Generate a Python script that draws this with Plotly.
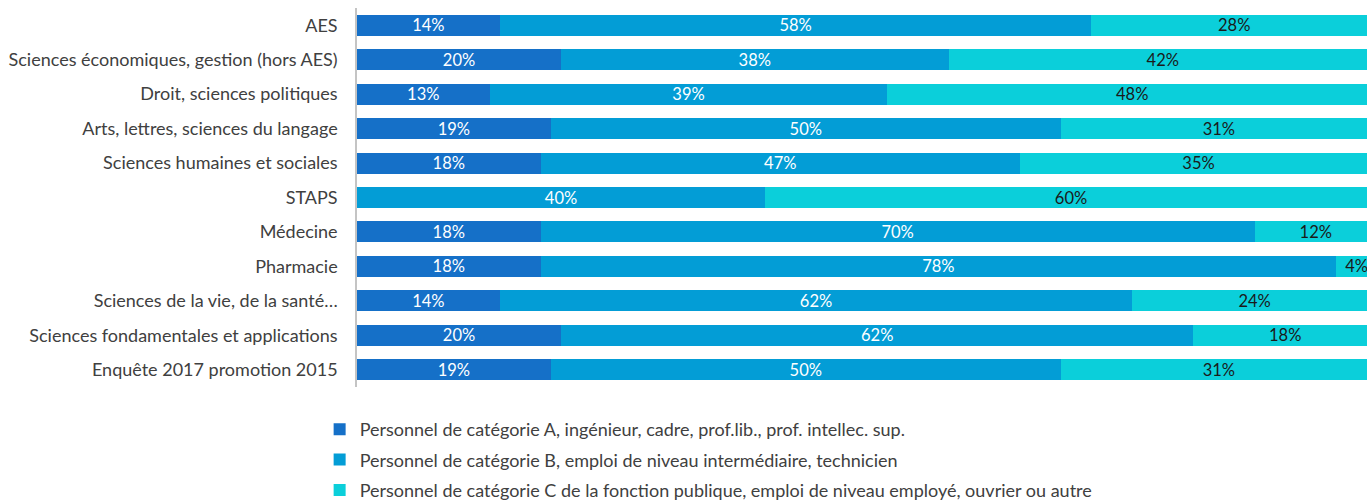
import plotly.graph_objects as go

categories = [
    "AES",
    "Sciences économiques, gestion (hors AES)",
    "Droit, sciences politiques",
    "Arts, lettres, sciences du langage",
    "Sciences humaines et sociales",
    "STAPS",
    "Médecine",
    "Pharmacie",
    "Sciences de la vie, de la santé…",
    "Sciences fondamentales et applications",
    "Enquête 2017 promotion 2015",
]
cat_a = [14, 20, 13, 19, 18, 0, 18, 18, 14, 20, 19]
cat_b = [58, 38, 39, 50, 47, 40, 70, 78, 62, 62, 50]
cat_c = [28, 42, 48, 31, 35, 60, 12, 4, 24, 18, 31]

series_names = [
    "Personnel de catégorie A, ingénieur, cadre, prof.lib., prof. intellec. sup.",
    "Personnel de catégorie B, emploi de niveau intermédiaire, technicien",
    "Personnel de catégorie C de la fonction publique, emploi de niveau employé, ouvrier ou autre",
]
colors = ["#1570c8", "#039dd6", "#0bcfda"]
text_colors = ["#ffffff", "#ffffff", "#1a1a1a"]

FONT = "Lato"
fig = go.Figure()
for i, vals in enumerate([cat_a, cat_b, cat_c]):
    texts = [f"{v}%" if v > 0 else "" for v in vals]
    fig.add_trace(go.Bar(
        y=categories, x=vals, orientation="h", name=series_names[i],
        marker=dict(color=colors[i], line=dict(width=0)),
        text=texts, textposition="inside", insidetextanchor="middle",
        constraintext="none", textangle=0,
        textfont=dict(family=FONT, size=16.5, color=text_colors[i]),
        legendgroup=f"g{i}", cliponaxis=True, hoverinfo="skip",
    ))

fig.update_layout(
    width=1367, height=500,
    barmode="stack", bargap=0.39,
    margin=dict(l=357, r=0, t=8, b=113),
    plot_bgcolor="white", paper_bgcolor="white",
    font=dict(family=FONT, size=18, color="#404040"),
    showlegend=True,
    legend=dict(
        x=-0.037, xanchor="left", xref="paper",
        y=0.178, yanchor="top", yref="container",
        traceorder="grouped", tracegroupgap=4,
        font=dict(family=FONT, size=18, color="#404040"),
        bgcolor="rgba(0,0,0,0)",
    ),
)
fig.update_xaxes(range=[0, 100 * 1010 / 1020], visible=False, fixedrange=True)
fig.update_yaxes(
    categoryorder="array", categoryarray=categories, autorange="reversed",
    showline=True, linecolor="#c4c4c4", linewidth=1.5,
    ticks="", ticklabelstandoff=14, showgrid=False, fixedrange=True,
    tickfont=dict(family=FONT, size=18, color="#404040"),
)
fig.write_html(
    "out.html",
    config={"displayModeBar": False},
    post_script="document.body.style.margin='0';document.body.style.overflow='hidden';"
                "document.documentElement.style.overflow='hidden';",
)
